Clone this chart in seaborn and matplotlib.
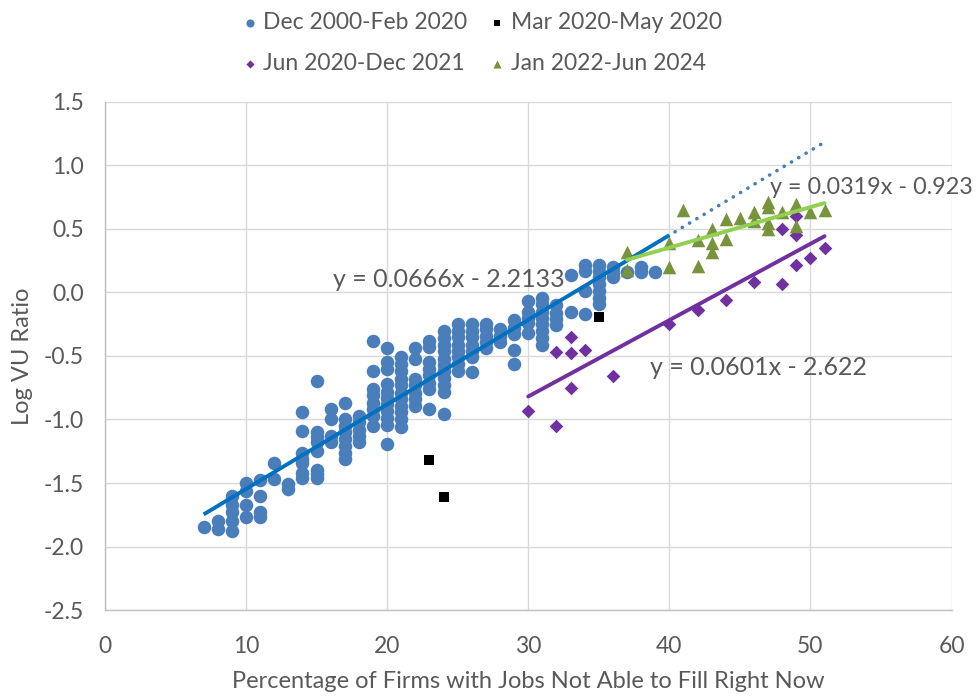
import matplotlib
matplotlib.use("Agg")
import matplotlib.pyplot as plt
import numpy as np
import pandas as pd
import seaborn as sns

sns.set_style("white")
plt.rcParams["font.family"] = ["Lato", "DejaVu Sans"]

# Dec 2000-Feb 2020: x value per column, y values stacked in each column
blue_cols = [7, 8, 9, 10, 11, 12, 13, 14, 15, 16, 17, 18, 19, 20, 21, 22, 23,
             24, 25, 26, 27, 28, 29, 30, 31, 32, 33, 34, 35, 36, 37, 38, 39]
blue_vals = [
    [-1.85],
    [-1.80, -1.86],
    [-1.60, -1.67, -1.73, -1.80, -1.88],
    [-1.50, -1.56, -1.67, -1.77],
    [-1.48, -1.60, -1.73, -1.77],
    [-1.34, -1.47],
    [-1.51, -1.55],
    [-0.94, -1.09, -1.26, -1.31, -1.34, -1.42, -1.46],
    [-0.70, -1.10, -1.14, -1.18, -1.25, -1.40, -1.43, -1.46],
    [-0.92, -1.00, -1.13, -1.18],
    [-0.87, -1.00, -1.05, -1.10, -1.15, -1.21, -1.26, -1.31],
    [-0.97, -1.02, -1.08, -1.13, -1.18],
    [-0.38, -0.62, -0.76, -0.81, -0.87, -0.92, -0.97, -1.05],
    [-0.44, -0.55, -0.60, -0.72, -0.78, -0.83, -0.88, -0.93, -0.99, -1.04, -1.19],
    [-0.51, -0.56, -0.62, -0.68, -0.73, -0.79, -0.84, -0.89, -0.94, -1.00, -1.06],
    [-0.44, -0.52, -0.68, -0.73, -0.79, -0.84, -0.89],
    [-0.38, -0.43, -0.55, -0.60, -0.65, -0.71, -0.76, -0.92],
    [-0.30, -0.36, -0.41, -0.46, -0.52, -0.57, -0.62, -0.67, -0.73, -0.78, -0.96],
    [-0.25, -0.30, -0.35, -0.41, -0.46, -0.51, -0.56, -0.62],
    [-0.25, -0.30, -0.35, -0.41, -0.46, -0.51, -0.63],
    [-0.25, -0.29, -0.34, -0.39, -0.44],
    [-0.29, -0.34, -0.39],
    [-0.22, -0.28, -0.33, -0.45, -0.56],
    [-0.07, -0.15, -0.20, -0.24, -0.32],
    [-0.04, -0.09, -0.15, -0.20, -0.25, -0.30, -0.36, -0.41],
    [-0.10, -0.16, -0.21, -0.26],
    [0.14, -0.15],
    [0.22, 0.17, 0.01, -0.17],
    [0.22, 0.17, 0.12, 0.07, 0.01, -0.04, -0.09],
    [0.20, 0.16, 0.12],
    [0.16],
    [0.20, 0.16],
    [0.16],
]

# Mar 2020-May 2020
black_x = [23, 24, 35]
black_y = [-1.32, -1.61, -0.19]

# Jun 2020-Dec 2021
purple_x = [30, 32, 32, 33, 33, 33, 34, 36, 40, 42, 44, 46, 48, 48, 49, 49, 49, 50, 51]
purple_y = [-0.93, -1.05, -0.47, -0.35, -0.48, -0.75, -0.45, -0.66, -0.245, -0.14,
            -0.06, 0.08, 0.07, 0.50, 0.45, 0.22, 0.60, 0.27, 0.35]

# Jan 2022-Jun 2024
green_x = [37, 37, 40, 40, 41, 42, 42, 43, 43, 43, 44, 44, 45, 46, 46, 47, 47, 47, 47,
           48, 49, 49, 50, 51]
green_y = [0.315, 0.18, 0.39, 0.20, 0.65, 0.41, 0.21, 0.50, 0.39, 0.315, 0.58, 0.42,
           0.59, 0.63, 0.565, 0.715, 0.67, 0.55, 0.50, 0.635, 0.695, 0.525, 0.63, 0.65]

# trendlines as printed on the chart: slope, intercept, x range
fit_blue = [0.0666, -2.2133, 7, 40]
fit_blue_ext = 51
fit_purple = [0.0601, -2.622, 30, 51]
fit_green = [0.0319, -0.923, 37, 51]

labels = ["Dec 2000-Feb 2020", "Mar 2020-May 2020", "Jun 2020-Dec 2021", "Jan 2022-Jun 2024"]

c_blue = "#4a7ebb"
c_blue_line = "#0070c0"
c_black = "#000000"
c_purple = "#7030a0"
c_green = "#77933c"
c_green_line = "#92d050"
c_text = "#595959"

bx = [x for x, ys in zip(blue_cols, blue_vals) for _ in ys]
by = [y for ys in blue_vals for y in ys]

fig = plt.figure(figsize=(9.8, 6.98), dpi=100)
ax = fig.add_axes([0.107, 0.126, 0.864, 0.728])

sns.scatterplot(x=bx, y=by, ax=ax, color=c_blue, marker="o", s=95,
                linewidth=0, label=labels[0], zorder=3)
sns.scatterplot(x=black_x, y=black_y, ax=ax, color=c_black, marker="s", s=60,
                linewidth=0, label=labels[1], zorder=3)
sns.scatterplot(x=purple_x, y=purple_y, ax=ax, color=c_purple, marker="D", s=48,
                linewidth=0, label=labels[2], zorder=3)
sns.scatterplot(x=green_x, y=green_y, ax=ax, color=c_green, marker="^", s=95,
                linewidth=0, label=labels[3], zorder=3)


def trend(fit):
    xs = np.array([fit[2], fit[3]])
    return xs, fit[0] * xs + fit[1]


xs, ys = trend(fit_blue)
ax.plot(xs, ys, color=c_blue_line, lw=2.8, zorder=4, solid_capstyle="butt")
xs2 = np.array([fit_blue[3] + 0.4, fit_blue_ext])
ax.plot(xs2, fit_blue[0] * xs2 + fit_blue[1], color=c_blue, lw=2.6,
        linestyle=(0, (0.05, 2.3)), dash_capstyle="round", zorder=4)
xs, ys = trend(fit_purple)
ax.plot(xs, ys, color=c_purple, lw=2.8, zorder=4)
xs, ys = trend(fit_green)
ax.plot(xs, ys, color=c_green_line, lw=2.8, zorder=4)


def eq(fit):
    return f"y = {fit[0]}x - {abs(fit[1])}"


ax.text(16.2, 0.10, eq(fit_blue), fontsize=18, color=c_text, va="center", ha="left")
ax.text(38.6, -0.59, eq(fit_purple), fontsize=18, color=c_text, va="center", ha="left")
ax.text(47.1, 0.83, eq(fit_green), fontsize=16.8, color=c_text, va="center", ha="left")

ax.set_xlim(0, 60)
ax.set_ylim(-2.5, 1.5)
ax.set_xticks(range(0, 61, 10))
ax.set_yticks(np.arange(-2.5, 1.51, 0.5))
ax.yaxis.set_major_formatter(matplotlib.ticker.FormatStrFormatter("%.1f"))
ax.grid(True, color="#d9d9d9", lw=1)
ax.set_axisbelow(True)
for side in ["top", "right"]:
    ax.spines[side].set_visible(False)
for side in ["left", "bottom"]:
    ax.spines[side].set_color("#bfbfbf")
    ax.spines[side].set_linewidth(1)
ax.tick_params(axis="both", length=0, labelsize=16.5, labelcolor=c_text)
ax.tick_params(axis="x", pad=19)
ax.tick_params(axis="y", pad=15)
ax.set_xlabel("Percentage of Firms with Jobs Not Able to Fill Right Now",
              fontsize=17, color=c_text, labelpad=10)
ax.set_ylabel("Log VU Ratio", fontsize=17, color=c_text, labelpad=8)

handles, labs = ax.get_legend_handles_labels()
order = [0, 2, 1, 3]
ax.legend([handles[i] for i in order], [labs[i] for i in order], ncol=2,
          loc="upper center", bbox_to_anchor=(0.49, 1.012), bbox_transform=fig.transFigure,
          frameon=False, fontsize=16.5, labelcolor=c_text, handletextpad=0.1,
          columnspacing=0.8, markerscale=0.6, labelspacing=0.85, handlelength=1.0)

fig.savefig("out.png", dpi=100)
